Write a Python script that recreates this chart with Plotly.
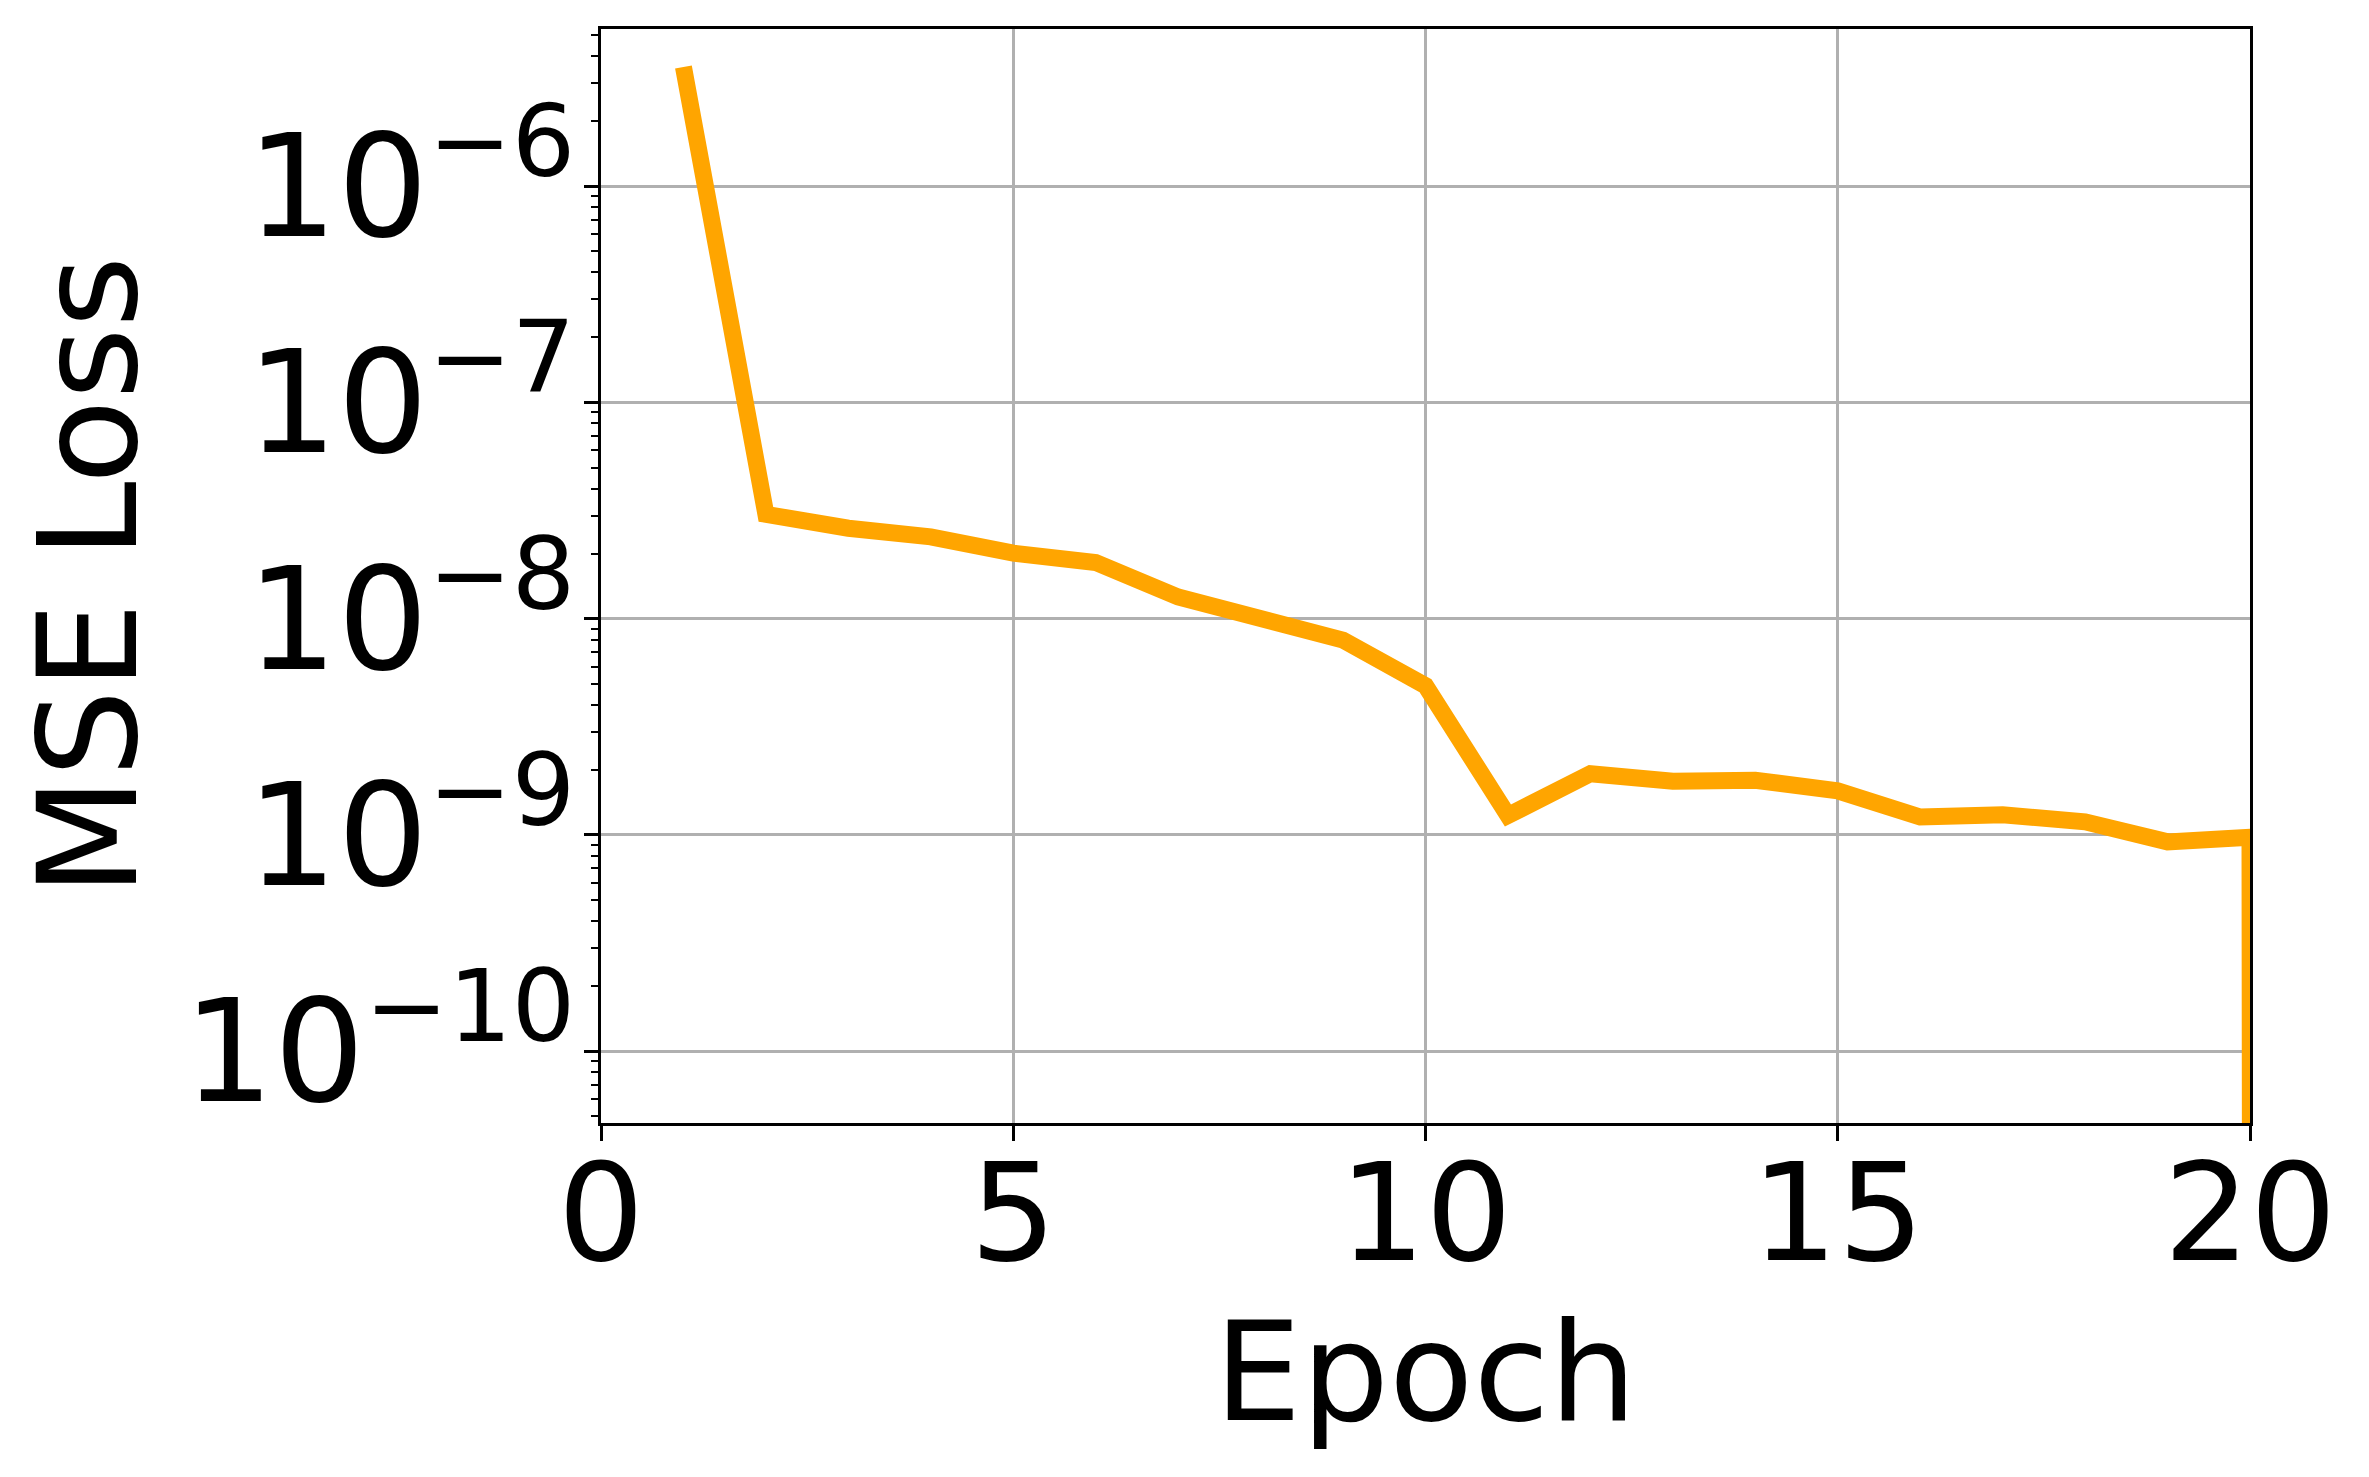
import plotly.graph_objects as go

# ---- data ----
epochs = list(range(1, 22))
mse_loss = [3.56e-6, 3.04e-8, 2.62e-8, 2.39e-8, 2.01e-8, 1.82e-8, 1.26e-8,
            1.01e-8, 7.96e-9, 4.90e-9, 1.23e-9, 1.92e-9, 1.77e-9, 1.79e-9,
            1.60e-9, 1.21e-9, 1.24e-9, 1.15e-9, 9.29e-10, 9.75e-10, 0.0]
x_ticks = [0, 5, 10, 15, 20]
x_tick_labels = ["0", "5", "10", "15", "20"]

# on a log axis a zero is clipped to a tiny positive value (as matplotlib does)
plot_loss = [v if v > 0 else 1e-300 for v in mse_loss]

FONT = "DejaVu Sans"
fig = go.Figure()
fig.add_trace(go.Scatter(
    x=epochs, y=plot_loss, mode="lines",
    line=dict(color="#FFA500", width=17),
    showlegend=False,
))

fig.update_layout(
    width=2369, height=1477,
    margin=dict(l=593, r=127, t=21, b=362, autoexpand=False),
    paper_bgcolor="white", plot_bgcolor="white",
    font=dict(family=FONT, color="black"),
)
fig.update_xaxes(
    range=[0, 20], tickmode="array", tickvals=x_ticks, ticktext=x_tick_labels,
    ticks="outside", ticklen=15, tickwidth=2.5, tickcolor="black",
    tickfont=dict(size=136, family=FONT, color="black"),
    ticklabelstandoff=-44,
    showline=True, linecolor="black", linewidth=3, mirror=True,
    showgrid=True, gridcolor="#b0b0b0", gridwidth=3,
    zeroline=False,
    title=dict(text="Epoch", font=dict(size=138, family=FONT, color="black"), standoff=16),
    automargin=False,
)
fig.update_yaxes(
    type="log", range=[-10.332, -5.273],
    dtick=1, exponentformat="power", showexponent="all",
    ticks="outside", ticklen=14, tickwidth=3, tickcolor="black",
    tickfont=dict(size=114, family=FONT, color="black"),
    ticklabelstandoff=-14,
    minor=dict(ticks="outside", ticklen=7, tickwidth=2, tickcolor="black",
               dtick="D1", showgrid=False),
    showline=True, linecolor="black", linewidth=3, mirror=True,
    showgrid=True, gridcolor="#b0b0b0", gridwidth=3,
    zeroline=False,
    title=dict(text="MSE Loss", font=dict(size=138, family=FONT, color="black"), standoff=96),
    automargin=False,
)

fig.write_html("out.html")
